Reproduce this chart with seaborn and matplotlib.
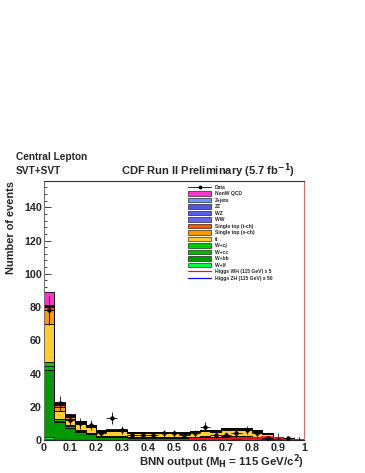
import numpy as np
import pandas as pd
import matplotlib
matplotlib.use('Agg')
import matplotlib.pyplot as plt
import seaborn as sns
from matplotlib.patches import Patch
from matplotlib.lines import Line2D
from matplotlib.ticker import MultipleLocator, FormatStrFormatter

# 25 bins of 0.04 on the BNN output
edges = np.linspace(0, 1, 26)
centers = (edges[:-1] + edges[1:]) / 2
bin_list = [float(e) for e in edges]

# stacked backgrounds, bottom (W+lf) to top (NonW QCD)
w_lf = [2.0, 0.6, 0.4, 0.3, 0.3, 0.2, 0.2, 0.2, 0.15, 0.15, 0.15, 0.15, 0.15, 0.15, 0.15, 0.15, 0.15, 0.2, 0.2, 0.2, 0.15, 0.1, 0.05, 0.03, 0.01]
w_bb = [40.0, 10.0, 7.0, 4.6, 3.2, 1.6, 1.4, 1.4, 1.3, 1.3, 1.3, 1.3, 1.3, 1.15, 1.3, 1.5, 1.3, 1.6, 1.6, 1.6, 1.15, 0.8, 0.3, 0.2, 0.07]
w_cc = [2.5, 1.0, 0.8, 0.6, 0.5, 0.3, 0.3, 0.3, 0.3, 0.3, 0.3, 0.3, 0.3, 0.25, 0.3, 0.3, 0.3, 0.3, 0.3, 0.3, 0.25, 0.15, 0.08, 0.04, 0.01]
w_cj = [2.5, 1.0, 0.8, 0.5, 0.4, 0.3, 0.3, 0.3, 0.25, 0.25, 0.25, 0.25, 0.25, 0.25, 0.25, 0.25, 0.25, 0.3, 0.3, 0.3, 0.25, 0.15, 0.07, 0.03, 0.01]
ttbar = [23.0, 4.6, 3.6, 3.6, 3.3, 2.5, 3.0, 3.0, 2.1, 2.1, 2.1, 2.1, 2.1, 2.0, 2.7, 3.0, 3.0, 3.8, 3.8, 3.8, 3.2, 2.4, 0.8, 0.5, 0.2]
stop_s = [8.5, 2.6, 1.2, 0.9, 0.6, 0.4, 0.5, 0.5, 0.4, 0.4, 0.4, 0.4, 0.4, 0.4, 0.5, 0.5, 0.5, 0.6, 0.6, 0.6, 0.5, 0.4, 0.15, 0.1, 0.05]
stop_t = [1.5, 1.0, 0.5, 0.4, 0.3, 0.3, 0.3, 0.3, 0.2, 0.2, 0.2, 0.2, 0.2, 0.2, 0.2, 0.3, 0.3, 0.3, 0.3, 0.3, 0.3, 0.2, 0.1, 0.05, 0.03]
ww = [0.3, 0.2, 0.1, 0.1, 0.1, 0.05, 0.05, 0.05, 0.05, 0.05, 0.05, 0.05, 0.05, 0.05, 0.05, 0.05, 0.05, 0.05, 0.05, 0.05, 0.05, 0.05, 0.0, 0.0, 0.0]
wz = [0.2, 0.1, 0.1, 0.1, 0.05, 0.05, 0.05, 0.05, 0.05, 0.05, 0.05, 0.05, 0.05, 0.05, 0.05, 0.05, 0.05, 0.05, 0.05, 0.05, 0.05, 0.05, 0.0, 0.0, 0.0]
zz = [0.2, 0.1, 0.1, 0.1, 0.05, 0.05, 0.05, 0.05, 0.05, 0.05, 0.05, 0.05, 0.05, 0.05, 0.05, 0.05, 0.05, 0.05, 0.05, 0.05, 0.05, 0.05, 0.0, 0.0, 0.0]
zjets = [0.3, 0.2, 0.2, 0.1, 0.1, 0.05, 0.05, 0.05, 0.05, 0.05, 0.05, 0.05, 0.05, 0.05, 0.05, 0.05, 0.05, 0.15, 0.15, 0.15, 0.05, 0.05, 0.05, 0.05, 0.02]
qcd = [8.0, 1.6, 0.6, 0.3, 0.3, 0.2, 0.2, 0.2, 0.1, 0.1, 0.1, 0.1, 0.1, 0.0, 0.0, 0.0, 0.0, 0.0, 0.0, 0.0, 0.0, 0.0, 0.0, 0.0, 0.0]

# signals (not stacked)
higgs_wh = [0.3, 0.2, 0.2, 0.2, 0.2, 0.2, 0.2, 0.2, 0.2, 0.2, 0.2, 0.3, 0.3, 0.3, 0.4, 0.5, 0.6, 0.8, 1.0, 1.2, 1.4, 1.6, 1.2, 0.8, 0.2]
higgs_zh = [0.1, 0.1, 0.1, 0.1, 0.1, 0.1, 0.1, 0.1, 0.1, 0.1, 0.1, 0.2, 0.2, 0.2, 0.3, 0.5, 0.6, 0.8, 0.9, 1.0, 1.0, 0.8, 0.5, 0.3, 0.1]

# observed data
data = [78, 22, 12, 10, 9, 4, 13, 6, 3, 3, 3, 4, 4, 3, 4, 8, 3, 3, 4, 6, 4, 1, 0, 1, 0]

# legend order = top of stack first
components = [
    ('NonW QCD', qcd, '#ff33cc'),
    ('Z+jets', zjets, '#6699ff'),
    ('ZZ', zz, '#5555dd'),
    ('WZ', wz, '#5560e8'),
    ('WW', ww, '#6666ee'),
    ('Single top (t-ch)', stop_t, '#ff5500'),
    ('Single top (s-ch)', stop_s, '#ff9900'),
    ('t\u0304t', ttbar, '#ffcc33'),
    ('W+cj', w_cj, '#00cc00'),
    ('W+cc', w_cc, '#00bb00'),
    ('W+bb', w_bb, '#009900'),
    ('W+lf', w_lf, '#00ff44'),
]

rows = []
for name, vals, col in components:
    for x, v in zip(centers, vals):
        rows.append({'x': x, 'w': v, 'comp': name})
df = pd.DataFrame(rows)

sns.set_style('ticks')
plt.rcParams['font.family'] = ['Liberation Sans', 'DejaVu Sans']
plt.rcParams['font.weight'] = 'bold'
plt.rcParams['mathtext.default'] = 'bf'

fig = plt.figure(figsize=(3.65, 4.73), dpi=100)
ax = fig.add_axes([44 / 365, 33 / 473, 260 / 365, 259.3 / 473])

order = [c[0] for c in components]
palette = {c[0]: c[2] for c in components}
sns.histplot(data=df, x='x', weights='w', hue='comp', hue_order=order, palette=palette,
             bins=bin_list, multiple='stack', element='step', alpha=1,
             edgecolor='black', linewidth=0.6, legend=False, ax=ax)

sns.histplot(x=centers, weights=higgs_zh, bins=bin_list, element='step', fill=False,
             color='#1010ff', linewidth=1.3, ax=ax)
sns.histplot(x=centers, weights=higgs_wh, bins=bin_list, element='step', fill=False,
             color='#ff1010', linewidth=1.3, ax=ax)

d = np.array(data, dtype=float)
has = d > 0
ax.errorbar(centers[has], d[has], xerr=0.02, yerr=np.sqrt(d[has]), fmt='o', ms=2.2,
            color='black', elinewidth=0.6, capsize=0, zorder=10)
ax.errorbar(centers[~has], d[~has], yerr=[np.zeros((~has).sum()), np.full((~has).sum(), 1.84)],
            fmt='none', ecolor='black', elinewidth=0.6, capsize=0, zorder=10)

ax.set_xlim(0, 1)
ax.set_ylim(0, 156)
ax.xaxis.set_major_locator(MultipleLocator(0.1))
ax.xaxis.set_minor_locator(MultipleLocator(0.02))
ax.yaxis.set_major_locator(MultipleLocator(20))
ax.yaxis.set_minor_locator(MultipleLocator(4))
ax.xaxis.set_major_formatter(FormatStrFormatter('%g'))
ax.tick_params(axis='both', which='both', direction='in', labelsize=7.7, width=0.6)
ax.tick_params(axis='both', which='major', length=5)
ax.tick_params(axis='both', which='minor', length=2.5)
ax.tick_params(axis='x', pad=2)
ax.tick_params(axis='y', pad=1.5)
for lab in ax.get_xticklabels() + ax.get_yticklabels():
    lab.set_fontweight('bold')

ax.set_xlabel('BNN output (M$_H$ = 115 GeV/c$^2$)', fontsize=8.2, fontweight='bold',
              loc='right', labelpad=0)
ax.set_ylabel('Number of events', fontsize=7.9, fontweight='bold', loc='top', labelpad=6)

for s in ['top', 'right', 'left', 'bottom']:
    ax.spines[s].set_visible(True)
    ax.spines[s].set_linewidth(0.8)
ax.spines['right'].set_color('#e06868')
ax.spines['left'].set_color('#707070')
ax.spines['top'].set_color('#303030')

# legend
handles = [Line2D([0], [0], color='black', marker='o', ms=1.8, lw=0.6)]
labels = ['Data']
for name, vals, col in components:
    handles.append(Patch(facecolor=col, edgecolor='black', linewidth=0.4))
    labels.append(name)
handles.append(Line2D([0], [0], color='#ff1010', lw=0.9))
labels.append('Higgs WH (115 GeV) x 5')
handles.append(Line2D([0], [0], color='#1010ff', lw=0.9))
labels.append('Higgs ZH (115 GeV) x 50')
leg = ax.legend(handles, labels, loc='upper left', bbox_to_anchor=(0.555, 0.985),
                frameon=False, fontsize=3.6, handlelength=4.6, handleheight=1.0,
                labelspacing=0.3, handletextpad=0.7, borderaxespad=0, borderpad=0)
for t in leg.get_texts():
    t.set_fontweight('bold')

fig.text(16 / 365, 1 - 157 / 473, 'Central Lepton', fontsize=7.3, fontweight='bold',
         va='center', ha='left')
fig.text(16 / 365, 1 - 170.5 / 473, 'SVT+SVT', fontsize=7.3, fontweight='bold',
         va='center', ha='left')
fig.text(207.5 / 365, 1 - 171 / 473, 'CDF Run II Preliminary (5.7 fb$^{-1}$)', fontsize=8.0,
         fontweight='bold', va='center', ha='center')

fig.savefig('out.png', dpi=100)
